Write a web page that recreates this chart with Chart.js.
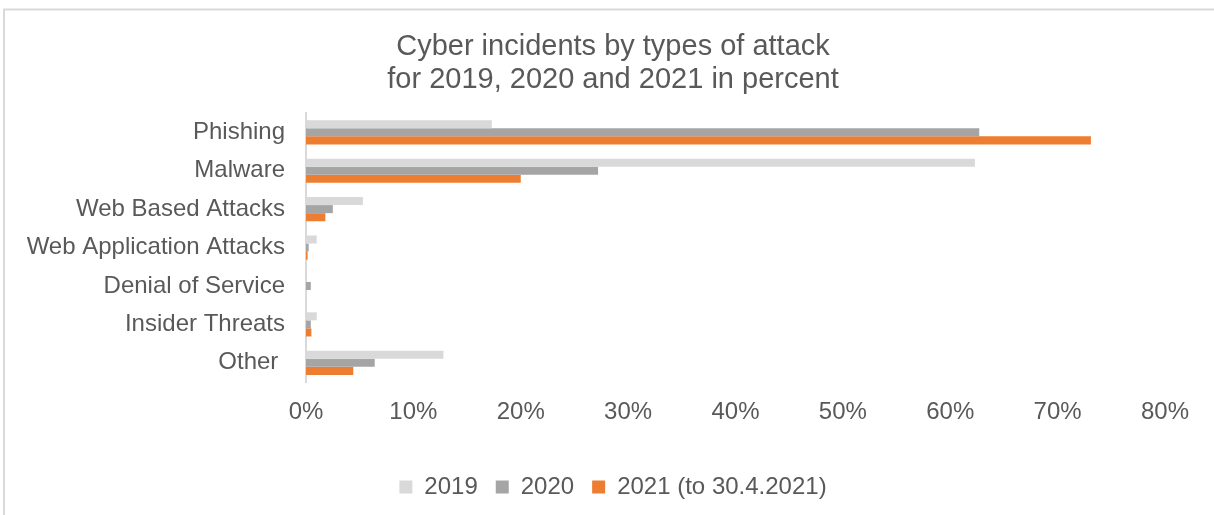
<!DOCTYPE html>
<html>
<head>
<meta charset="utf-8">
<script src="https://cdn.jsdelivr.net/npm/chart.js@4/dist/chart.umd.min.js"></script>
<style>
  html, body { margin: 0; padding: 0; background: #ffffff; }
  #wrap { width: 1214px; height: 515px; position: relative; }
</style>
</head>
<body>
<div id="wrap"><canvas id="chart" width="1214" height="515"></canvas></div>
<script>
// Attack categories (the trailing space on "Other " is intentional)
const categories = ['Phishing', 'Malware', 'Web Based Attacks', 'Web Application Attacks', 'Denial of Service', 'Insider Threats', 'Other '];

// Share of incidents per year, in percent
const values2019 = [17.3, 62.3, 5.3, 1.0, 0.1, 1.0, 12.8];
const values2020 = [62.7, 27.2, 2.5, 0.25, 0.45, 0.45, 6.4];
const values2021 = [73.1, 20.0, 1.8, 0.15, 0.0, 0.5, 4.4];

const seriesLabels = ['2019', '2020', '2021 (to 30.4.2021)'];
const xTicks = [0, 10, 20, 30, 40, 50, 60, 70, 80];

const FONT = "'Liberation Sans', Arial, sans-serif";
const TEXT = '#595959';

// Light frame around the chart area
const framePlugin = {
  id: 'frame',
  beforeDraw(chart) {
    const ctx = chart.ctx;
    ctx.save();
    ctx.strokeStyle = '#d9d9d9';
    ctx.lineWidth = 2;
    ctx.beginPath();
    ctx.moveTo(4, 520);
    ctx.lineTo(4, 9.5);
    ctx.lineTo(1220, 9.5);
    ctx.stroke();
    ctx.restore();
  }
};

// Let long category names extend past the left layout padding
const wideLabelsPlugin = {
  id: 'wideLabels',
  afterLayout(chart) {
    chart.scales.y.left = 0;
  }
};

new Chart(document.getElementById('chart'), {
  type: 'bar',
  data: {
    labels: categories,
    datasets: [
      { label: seriesLabels[0], data: values2019, backgroundColor: '#d9d9d9' },
      { label: seriesLabels[1], data: values2020, backgroundColor: '#a5a5a5' },
      { label: seriesLabels[2], data: values2021, backgroundColor: '#ed7d31' }
    ]
  },
  options: {
    indexAxis: 'y',
    responsive: false,
    animation: false,
    devicePixelRatio: 1,
    layout: { padding: { top: 30, right: 49, bottom: 6, left: 61 } },
    datasets: {
      bar: { categoryPercentage: 0.63, barPercentage: 1.0, borderWidth: 0 }
    },
    scales: {
      x: {
        min: 0,
        max: 80,
        afterBuildTicks(scale) { scale.ticks = xTicks.map(v => ({ value: v })); },
        grid: { display: false, drawTicks: false },
        border: { display: false },
        ticks: {
          color: TEXT,
          font: { family: FONT, size: 24 },
          padding: 16,
          callback: v => v + '%'
        },
        afterFit(scale) { scale.height = 75; }
      },
      y: {
        grid: { display: false, drawTicks: false },
        border: { display: true, color: '#d9d9d9', width: 2 },
        ticks: {
          color: TEXT,
          font: { family: FONT, size: 24 },
          padding: 21,
          autoSkip: false
        },
        afterFit(scale) { scale.width = 245; }
      }
    },
    plugins: {
      title: {
        display: true,
        text: ['Cyber incidents by types of attack', 'for 2019, 2020 and 2021 in percent'],
        color: TEXT,
        font: { family: FONT, size: 29, weight: 'normal', lineHeight: 1.14 },
        padding: { top: 0, bottom: 17 }
      },
      legend: {
        position: 'bottom',
        labels: {
          color: TEXT,
          font: { family: FONT, size: 24 },
          boxWidth: 13,
          boxHeight: 13,
          padding: 18
        }
      },
      tooltip: { enabled: false }
    }
  },
  plugins: [framePlugin, wideLabelsPlugin]
});
</script>
</body>
</html>
